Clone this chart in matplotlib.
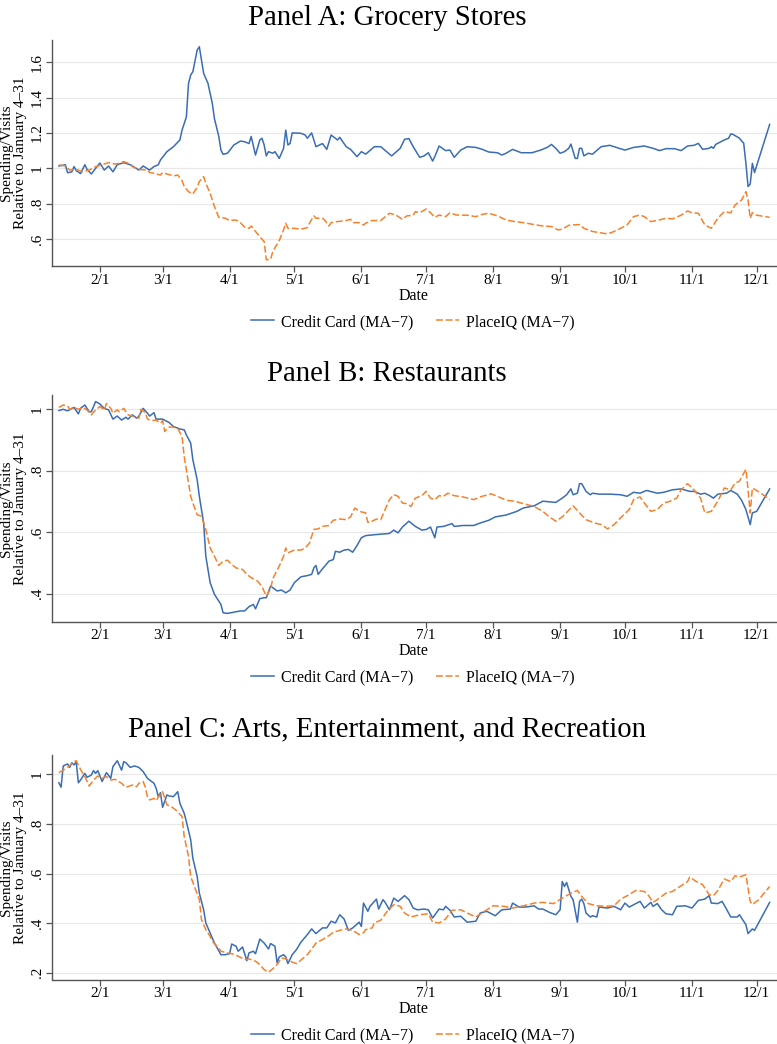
import matplotlib
matplotlib.use("Agg")
import matplotlib.pyplot as plt
from matplotlib.lines import Line2D
import numpy as np

plt.rcParams['font.family'] = ['Liberation Serif', 'DejaVu Serif']

# ---------------- data (x = day of year 2020) ----------------
tick_days = [32, 61, 92, 122, 153, 183, 214, 245, 275, 306, 336]
tick_labels = ['2/1', '3/1', '4/1', '5/1', '6/1', '7/1', '8/1', '9/1', '10/1', '11/1', '12/1']

titles = ['Panel A: Grocery Stores', 'Panel B: Restaurants',
          'Panel C: Arts, Entertainment, and Recreation']
series_names = ['Credit Card (MA\u22127)', 'PlaceIQ (MA\u22127)']

# Panel A - credit card
a_cc_day = [13, 16, 17, 19, 20, 21, 23, 25, 26, 28, 30, 32, 34, 36, 38, 40, 43, 46, 48, 50, 52, 55, 57, 59, 60, 63,
            66, 69, 70, 72, 73, 74, 75, 77, 78, 80, 82, 84, 85, 87, 88, 89, 91, 94, 97, 99, 101, 102, 104, 106, 107,
            108, 109, 110, 112, 113, 115, 117, 118, 119, 120, 121, 125, 127, 128, 130, 132, 135, 137, 139, 142, 143,
            146, 148, 151, 153, 155, 159, 162, 167, 171, 173, 175, 177, 180, 182, 184, 186, 187, 189, 192, 194, 196,
            199, 202, 206, 209, 212, 216, 218, 220, 223, 227, 232, 236, 239, 241, 243, 245, 247, 249, 250, 252, 253,
            254, 255, 256, 258, 260, 264, 268, 271, 275, 279, 284, 288, 291, 294, 298, 301, 304, 307, 309, 311, 314,
            315, 316, 317, 321, 323, 324, 325, 328, 330, 331, 332, 333, 334, 335, 342]
a_cc_val = [1.013, 1.02, 0.975, 0.98, 1.01, 0.987, 0.97, 1.02, 0.995, 0.968, 1.0, 1.03, 0.99, 1.013, 0.98, 1.02,
            1.032, 1.02, 1.006, 0.99, 1.013, 0.99, 1.01, 1.02, 1.047, 1.094, 1.122, 1.16, 1.216, 1.29, 1.48, 1.527,
            1.546, 1.668, 1.687, 1.536, 1.48, 1.367, 1.28, 1.18, 1.103, 1.079, 1.085, 1.132, 1.154, 1.15, 1.14, 1.18,
            1.075, 1.16, 1.17, 1.132, 1.07, 1.094, 1.085, 1.094, 1.056, 1.113, 1.216, 1.132, 1.14, 1.2, 1.198, 1.188,
            1.17, 1.2, 1.122, 1.14, 1.107, 1.188, 1.16, 1.175, 1.122, 1.107, 1.066, 1.094, 1.08, 1.122, 1.122, 1.07,
            1.113, 1.164, 1.168, 1.122, 1.062, 1.07, 1.088, 1.041, 1.066, 1.126, 1.1, 1.103, 1.062, 1.103, 1.122,
            1.118, 1.107, 1.092, 1.088, 1.075, 1.085, 1.107, 1.088, 1.088, 1.103, 1.118, 1.135, 1.113, 1.085, 1.094,
            1.113, 1.137, 1.056, 1.056, 1.113, 1.113, 1.07, 1.085, 1.08, 1.122, 1.13, 1.118, 1.103, 1.118, 1.126,
            1.113, 1.1, 1.111, 1.111, 1.1, 1.126, 1.13, 1.141, 1.107, 1.113, 1.122, 1.113, 1.135, 1.16, 1.17, 1.194,
            1.192, 1.17, 1.141, 1.028, 0.897, 0.911, 1.028, 0.976, 1.248]

# Panel A - PlaceIQ
a_pq_day = [13, 16, 18, 21, 24, 27, 30, 36, 39, 41, 43, 46, 47, 50, 54, 55, 57, 60, 61, 63, 66, 68, 70, 71, 73, 75,
            77, 78, 80, 81, 83, 85, 87, 90, 92, 95, 97, 99, 101, 102, 104, 106, 108, 109, 111, 112, 115, 117, 118,
            119, 122, 125, 128, 129, 131, 132, 135, 136, 138, 139, 142, 146, 148, 149, 152, 154, 155, 158, 162, 166,
            169, 172, 174, 177, 178, 180, 183, 185, 187, 189, 192, 194, 197, 202, 206, 209, 212, 216, 220, 223, 228,
            233, 237, 241, 244, 246, 249, 251, 254, 256, 260, 263, 267, 270, 273, 276, 279, 282, 284, 287, 290, 294,
            297, 301, 304, 306, 309, 312, 315, 318, 321, 324, 326, 329, 331, 332, 333, 334, 336, 342]
a_pq_val = [1.019, 1.013, 0.99, 0.994, 0.98, 0.99, 1.009, 1.032, 1.024, 1.028, 1.038, 1.024, 1.009, 0.994, 0.99,
            0.976, 0.972, 0.962, 0.976, 0.968, 0.957, 0.962, 0.93, 0.897, 0.868, 0.855, 0.893, 0.925, 0.953, 0.915,
            0.859, 0.784, 0.723, 0.718, 0.705, 0.708, 0.693, 0.667, 0.661, 0.674, 0.643, 0.614, 0.586, 0.483, 0.486,
            0.53, 0.592, 0.652, 0.69, 0.661, 0.661, 0.656, 0.665, 0.69, 0.731, 0.718, 0.718, 0.708, 0.674, 0.693,
            0.699, 0.705, 0.712, 0.693, 0.693, 0.68, 0.69, 0.705, 0.705, 0.746, 0.736, 0.712, 0.731, 0.735, 0.755,
            0.749, 0.77, 0.749, 0.723, 0.736, 0.727, 0.749, 0.736, 0.735, 0.727, 0.74, 0.746, 0.731, 0.708, 0.701,
            0.693, 0.682, 0.674, 0.671, 0.652, 0.656, 0.678, 0.68, 0.682, 0.661, 0.643, 0.637, 0.629, 0.643, 0.661,
            0.68, 0.727, 0.736, 0.727, 0.699, 0.705, 0.718, 0.714, 0.735, 0.759, 0.749, 0.746, 0.68, 0.661, 0.718,
            0.755, 0.749, 0.793, 0.821, 0.868, 0.821, 0.718, 0.749, 0.735, 0.723]

# Panel B - credit card
b_cc_day = [13, 15, 17, 20, 22, 23, 25, 27, 28, 30, 32, 34, 36, 38, 40, 42, 44, 45, 47, 49, 50, 52, 54, 55, 57, 58,
            61, 64, 66, 69, 71, 72, 74, 75, 77, 78, 80, 81, 83, 85, 88, 89, 91, 94, 97, 99, 101, 103, 104, 106, 108,
            109, 111, 114, 116, 118, 120, 122, 125, 128, 130, 131, 132, 133, 135, 138, 140, 141, 143, 145, 147, 149,
            151, 153, 155, 159, 166, 168, 170, 172, 175, 178, 181, 183, 185, 187, 188, 191, 195, 196, 200, 205, 208,
            212, 215, 220, 225, 228, 233, 237, 243, 246, 248, 250, 251, 253, 254, 255, 257, 259, 260, 263, 268, 273,
            276, 279, 282, 285, 290, 293, 297, 301, 305, 307, 310, 312, 314, 316, 318, 322, 324, 327, 329, 331, 333,
            334, 336, 342]
b_cc_val = [0.996, 1.0, 0.995, 1.006, 0.985, 1.003, 1.014, 0.992, 0.992, 1.025, 1.017, 1.003, 0.998, 0.968, 0.978,
            0.965, 0.974, 0.968, 0.982, 0.971, 0.978, 1.003, 0.987, 0.978, 0.989, 0.968, 0.968, 0.957, 0.944, 0.936,
            0.933, 0.917, 0.89, 0.836, 0.771, 0.717, 0.63, 0.522, 0.436, 0.398, 0.365, 0.338, 0.336, 0.34, 0.344,
            0.344, 0.358, 0.365, 0.351, 0.384, 0.387, 0.387, 0.425, 0.409, 0.412, 0.403, 0.412, 0.436, 0.455, 0.459,
            0.463, 0.484, 0.492, 0.463, 0.481, 0.506, 0.511, 0.538, 0.535, 0.542, 0.544, 0.535, 0.557, 0.582, 0.589,
            0.592, 0.596, 0.607, 0.598, 0.617, 0.636, 0.619, 0.607, 0.609, 0.617, 0.582, 0.617, 0.619, 0.628, 0.619,
            0.622, 0.622, 0.63, 0.639, 0.65, 0.656, 0.668, 0.679, 0.686, 0.701, 0.697, 0.711, 0.722, 0.741, 0.722,
            0.727, 0.758, 0.758, 0.733, 0.722, 0.727, 0.724, 0.724, 0.722, 0.717, 0.73, 0.727, 0.736, 0.727, 0.73,
            0.738, 0.741, 0.733, 0.733, 0.724, 0.727, 0.72, 0.711, 0.724, 0.727, 0.736, 0.724, 0.704, 0.674, 0.625,
            0.663, 0.668, 0.741]

# Panel B - PlaceIQ
b_pq_day = [13, 15, 17, 18, 20, 22, 24, 26, 28, 30, 32, 34, 35, 37, 38, 40, 41, 43, 45, 47, 50, 51, 53, 54, 56, 58,
            60, 61, 62, 64, 66, 68, 70, 71, 72, 74, 75, 77, 79, 81, 83, 85, 87, 89, 91, 93, 95, 98, 100, 102, 105,
            107, 109, 111, 112, 115, 117, 118, 119, 122, 125, 127, 129, 131, 133, 135, 138, 140, 143, 146, 148, 150,
            152, 155, 156, 158, 160, 162, 164, 166, 168, 170, 172, 174, 176, 178, 181, 183, 185, 187, 189, 191, 193,
            196, 200, 205, 208, 213, 216, 220, 224, 228, 233, 237, 240, 243, 246, 250, 251, 254, 257, 261, 264, 267,
            270, 273, 277, 279, 282, 284, 287, 290, 293, 296, 299, 301, 304, 307, 310, 312, 315, 318, 321, 324, 326,
            328, 331, 332, 333, 334, 338, 342]
b_pq_val = [1.006, 1.014, 1.011, 1.0, 1.006, 1.0, 1.006, 0.998, 0.982, 0.998, 1.009, 0.998, 1.019, 1.003, 0.987,
            0.998, 0.992, 1.003, 0.982, 0.978, 0.971, 1.0, 0.989, 0.968, 0.963, 0.965, 0.955, 0.963, 0.928, 0.942,
            0.942, 0.938, 0.911, 0.846, 0.803, 0.717, 0.695, 0.657, 0.652, 0.609, 0.549, 0.522, 0.492, 0.506, 0.509,
            0.495, 0.484, 0.479, 0.463, 0.452, 0.441, 0.423, 0.392, 0.416, 0.449, 0.49, 0.522, 0.549, 0.533, 0.542,
            0.542, 0.549, 0.565, 0.609, 0.611, 0.619, 0.622, 0.639, 0.643, 0.641, 0.65, 0.679, 0.668, 0.663, 0.632,
            0.636, 0.643, 0.641, 0.674, 0.706, 0.722, 0.717, 0.695, 0.693, 0.684, 0.711, 0.719, 0.733, 0.711, 0.706,
            0.719, 0.717, 0.727, 0.719, 0.715, 0.706, 0.715, 0.725, 0.717, 0.704, 0.701, 0.693, 0.684, 0.668, 0.65,
            0.636, 0.65, 0.679, 0.686, 0.663, 0.641, 0.63, 0.625, 0.611, 0.625, 0.647, 0.674, 0.706, 0.715, 0.695,
            0.668, 0.674, 0.695, 0.701, 0.711, 0.738, 0.758, 0.738, 0.711, 0.663, 0.668, 0.701, 0.744, 0.738, 0.76,
            0.766, 0.805, 0.738, 0.663, 0.744, 0.727, 0.706]

# Panel C - credit card
c_cc_day = [13, 14, 15, 17, 18, 19, 20, 21, 22, 23, 25, 26, 28, 29, 30, 31, 33, 35, 37, 38, 40, 42, 43, 44, 46, 48,
            50, 52, 54, 55, 57, 58, 59, 60, 61, 63, 64, 66, 68, 69, 71, 72, 74, 75, 77, 78, 80, 81, 83, 85, 88, 90,
            92, 93, 95, 96, 98, 100, 101, 103, 104, 106, 108, 110, 111, 113, 114, 115, 117, 118, 119, 121, 123, 125,
            128, 130, 132, 135, 137, 139, 141, 143, 145, 147, 149, 152, 153, 154, 156, 157, 160, 161, 163, 164, 166,
            168, 170, 173, 175, 177, 179, 182, 184, 186, 189, 191, 192, 194, 196, 199, 202, 206, 208, 211, 215, 218,
            222, 223, 226, 229, 233, 235, 237, 240, 243, 245, 246, 247, 248, 250, 251, 253, 254, 255, 256, 257, 259,
            260, 262, 263, 267, 270, 273, 275, 277, 280, 282, 284, 287, 288, 290, 292, 294, 297, 299, 303, 306, 309,
            312, 314, 315, 318, 320, 322, 324, 327, 328, 331, 332, 334, 335, 342]
c_cc_val = [0.966, 0.948, 1.034, 1.042, 1.028, 1.047, 1.038, 1.051, 0.966, 0.977, 1.004, 0.988, 0.997, 1.015,
            1.004, 1.015, 0.971, 1.007, 0.984, 1.031, 1.055, 1.017, 1.051, 1.047, 1.028, 1.034, 1.028, 1.011, 0.984,
            0.977, 0.964, 0.944, 0.91, 0.926, 0.867, 0.917, 0.913, 0.91, 0.93, 0.883, 0.843, 0.809, 0.736, 0.662,
            0.588, 0.521, 0.454, 0.401, 0.361, 0.32, 0.273, 0.273, 0.277, 0.316, 0.307, 0.287, 0.304, 0.249, 0.28,
            0.287, 0.277, 0.336, 0.32, 0.296, 0.318, 0.307, 0.24, 0.264, 0.273, 0.264, 0.237, 0.273, 0.294, 0.323,
            0.354, 0.377, 0.358, 0.381, 0.381, 0.408, 0.401, 0.434, 0.417, 0.371, 0.381, 0.404, 0.387, 0.481, 0.448,
            0.468, 0.497, 0.457, 0.495, 0.484, 0.454, 0.501, 0.488, 0.511, 0.495, 0.461, 0.454, 0.457, 0.454, 0.421,
            0.457, 0.454, 0.468, 0.452, 0.425, 0.428, 0.404, 0.408, 0.441, 0.448, 0.43, 0.454, 0.457, 0.481, 0.465,
            0.465, 0.47, 0.457, 0.457, 0.444, 0.434, 0.454, 0.568, 0.548, 0.564, 0.508, 0.495, 0.404, 0.488, 0.497,
            0.479, 0.441, 0.425, 0.43, 0.425, 0.465, 0.461, 0.468, 0.454, 0.481, 0.465, 0.479, 0.488, 0.461, 0.484,
            0.468, 0.479, 0.454, 0.438, 0.434, 0.468, 0.47, 0.461, 0.492, 0.497, 0.511, 0.481, 0.479, 0.488, 0.457,
            0.425, 0.425, 0.434, 0.394, 0.358, 0.377, 0.371, 0.484]

# Panel C - PlaceIQ
c_pq_day = [13, 15, 17, 20, 21, 23, 25, 27, 29, 31, 33, 35, 37, 39, 42, 44, 47, 49, 50, 52, 53, 54, 55, 57, 58, 60,
            61, 63, 65, 67, 70, 71, 73, 74, 76, 78, 79, 81, 83, 84, 87, 88, 91, 93, 96, 99, 101, 104, 106, 108, 110,
            112, 114, 116, 118, 121, 123, 125, 128, 130, 132, 135, 138, 140, 143, 146, 149, 152, 154, 155, 158, 159,
            162, 165, 168, 171, 173, 176, 180, 184, 186, 189, 192, 195, 199, 202, 206, 210, 214, 219, 223, 228, 233,
            237, 242, 246, 250, 253, 255, 258, 262, 266, 270, 273, 277, 280, 284, 286, 288, 290, 294, 297, 301, 304,
            305, 308, 311, 314, 316, 318, 321, 324, 326, 328, 331, 333, 334, 337, 342]
c_pq_val = [1.007, 1.017, 1.028, 1.051, 1.055, 1.02, 0.991, 0.953, 0.977, 0.993, 0.984, 0.991, 0.977, 0.98, 0.964,
            0.948, 0.957, 0.95, 0.964, 0.971, 0.948, 0.908, 0.897, 0.903, 0.894, 0.921, 0.93, 0.877, 0.87, 0.857,
            0.83, 0.749, 0.669, 0.588, 0.542, 0.495, 0.414, 0.374, 0.347, 0.327, 0.3, 0.287, 0.28, 0.277, 0.267,
            0.253, 0.256, 0.247, 0.233, 0.213, 0.202, 0.216, 0.233, 0.26, 0.256, 0.243, 0.237, 0.251, 0.273, 0.296,
            0.32, 0.334, 0.35, 0.363, 0.371, 0.377, 0.371, 0.354, 0.361, 0.374, 0.381, 0.401, 0.412, 0.448, 0.475,
            0.468, 0.441, 0.425, 0.434, 0.438, 0.404, 0.401, 0.417, 0.452, 0.454, 0.441, 0.425, 0.448, 0.47, 0.468,
            0.461, 0.47, 0.481, 0.484, 0.479, 0.501, 0.521, 0.532, 0.508, 0.479, 0.47, 0.468, 0.47, 0.497, 0.515,
            0.532, 0.528, 0.511, 0.484, 0.495, 0.521, 0.528, 0.551, 0.568, 0.586, 0.568, 0.555, 0.515, 0.511, 0.532,
            0.578, 0.568, 0.591, 0.586, 0.595, 0.488, 0.475, 0.495, 0.548]

panels = [
    dict(cc=(a_cc_day, a_cc_val), pq=(a_pq_day, a_pq_val), yticks=[0.6, 0.8, 1.0, 1.2, 1.4, 1.6],
         ylabels=['.6', '.8', '1', '1.2', '1.4', '1.6'], ylim=(0.448, 1.725), box=(40, 266), title_base=25),
    dict(cc=(b_cc_day, b_cc_val), pq=(b_pq_day, b_pq_val), yticks=[0.4, 0.6, 0.8, 1.0],
         ylabels=['.4', '.6', '.8', '1'], ylim=(0.309, 1.0465), box=(395, 621.7), title_base=381.5),
    dict(cc=(c_cc_day, c_cc_val), pq=(c_pq_day, c_pq_val), yticks=[0.2, 0.4, 0.6, 0.8, 1.0],
         ylabels=['.2', '.4', '.6', '.8', '1'], ylim=(0.173, 1.078), box=(755, 979.5), title_base=736.5),
]

# ---------------- figure ----------------
W, H = 777, 1044
fig = plt.figure(figsize=(W / 100, H / 100), dpi=100)
fig.patch.set_facecolor('white')

BLUE = '#3a6db3'
ORANGE = '#f7812b'
AXC = '#555555'
GRID = '#e8e8e8'
xlim = (9.8, 345.4)
left_px, right_px = 52, 777
DASH = (4.5, 1.8)

for i, p in enumerate(panels):
    top, bot = p['box']
    ax = fig.add_axes([left_px / W, 1 - bot / H, (right_px - left_px) / W, (bot - top) / H])
    ax.plot(p['cc'][0], p['cc'][1], color=BLUE, lw=1.1, solid_joinstyle='round')
    ax.plot(p['pq'][0], p['pq'][1], color=ORANGE, lw=1.1, dashes=DASH)
    ax.set_xlim(*xlim)
    ax.set_ylim(*p['ylim'])
    ax.set_xticks(tick_days)
    ax.set_xticklabels(tick_labels, fontsize=11)
    ax.set_yticks(p['yticks'])
    ax.set_yticklabels(p['ylabels'], fontsize=11, rotation=90, va='center')
    ax.grid(axis='y', color=GRID, lw=0.9)
    ax.set_axisbelow(True)
    for s in ['top', 'right']:
        ax.spines[s].set_visible(False)
    for s in ['left', 'bottom']:
        ax.spines[s].set_color(AXC)
        ax.spines[s].set_linewidth(1.0)
    ax.tick_params(axis='x', direction='out', length=4, width=0.9, color=AXC, pad=1.5)
    ax.tick_params(axis='y', direction='out', length=4, width=0.9, color=AXC, pad=2)
    # y title (two lines)
    yc = (top + bot) / 2
    fig.text(13.5 / W, 1 - yc / H, 'Spending/Visits\nRelative to January 4\u201331', rotation=90,
             ha='center', va='center', fontsize=11, linespacing=1.08, multialignment='center')
    fig.text(414 / W, 1 - (bot + 29.5) / H, 'Date', ha='center', va='center', fontsize=11.5)
    fig.text(387 / W, 1 - p['title_base'] / H, titles[i], ha='center', va='baseline', fontsize=20.7)
    handles = [Line2D([0], [0], color=BLUE, lw=1.1),
               Line2D([0], [0], color=ORANGE, lw=1.1, dashes=DASH)]
    fig.legend(handles, series_names, loc='center', bbox_to_anchor=(413 / W, 1 - (bot + 56) / H),
               ncol=2, frameon=False, fontsize=11.5, handlelength=1.45, columnspacing=1.4,
               handletextpad=0.45, borderpad=0, borderaxespad=0)

fig.savefig('out.png', dpi=100, facecolor='white')
